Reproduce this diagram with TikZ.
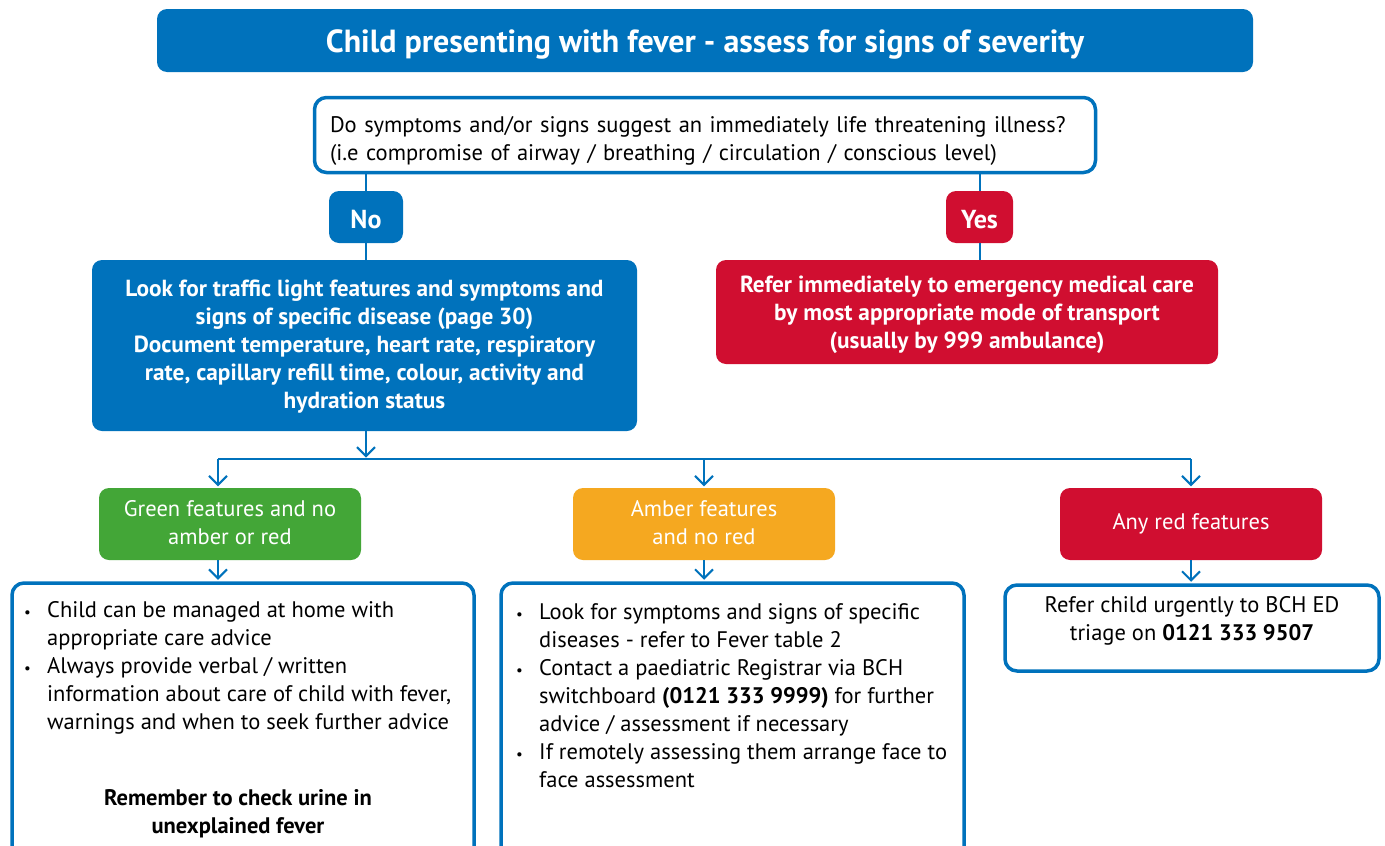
\documentclass[tikz,border=0pt]{standalone}
\usepackage{fontspec}
\setmainfont{PT Sans}
\usepackage{xcolor}
\usetikzlibrary{arrows.meta,positioning}

\definecolor{nhsblue}{RGB}{0,114,188}
\definecolor{alertred}{RGB}{208,14,48}
\definecolor{featgreen}{RGB}{67,166,55}
\definecolor{featamber}{RGB}{245,168,32}

\newcommand{\bodyfont}{\fontsize{22.5}{28}\selectfont}
\newcommand{\boldfont}{\bfseries\fontsize{23.3}{28}\selectfont}
\newcommand{\dotitem}{{\fontsize{15}{15}\selectfont\textbullet}}

\tikzset{
    filled/.style={rounded corners=10pt, inner sep=0pt, text=white, align=center},
    outlined/.style={draw=nhsblue, line width=3.5pt, rounded corners=12pt, fill=white, inner sep=0pt},
    link/.style={draw=nhsblue, line width=2pt},
    pointer/.style={link, shorten >=1.5pt, -{Straight Barb[length=9pt,width=18pt]}},
}

\begin{document}
\begin{tikzpicture}[x=1pt,y=-1pt]
    \clip (0,0) rectangle (1385,846);
    \fill[white] (0,0) rectangle (1385,846);

    % Title and question
    \node[filled, fill=nhsblue, minimum width=1096pt, minimum height=63pt,
          text height=23pt, text depth=0pt,
          font=\bfseries\fontsize{32}{34}\selectfont] (title) at (705,40.5)
          {Child presenting with fever - assess for signs of severity};
    \node[outlined, minimum width=781pt, minimum height=75pt, text width=750pt,
          text height=20pt, text depth=25pt,
          align=left, font=\bodyfont] (question) at (705,135)
          {Do symptoms and/or signs suggest an immediately life threatening illness?\\
           (i.e compromise of airway / breathing / circulation / conscious level)};

    % No / Yes
    \node[filled, fill=nhsblue, minimum width=74pt, minimum height=52pt,
          text height=22pt, text depth=0pt,
          font=\bfseries\fontsize{26}{28}\selectfont] (no) at (366,217) {No};
    \node[filled, fill=alertred, minimum width=67pt, minimum height=52pt,
          text height=22pt, text depth=0pt,
          font=\bfseries\fontsize{26}{28}\selectfont] (yes) at (979.5,217) {Yes};

    \node[filled, fill=nhsblue, minimum width=545pt, minimum height=171pt,
          text height=125pt, text depth=0pt,
          font=\boldfont] (assess) at (364.5,345.5)
          {Look for traffic light features and symptoms and\\
           signs of specific disease (page 30)\\
           Document temperature, heart rate, respiratory\\
           rate, capillary refill time, colour, activity and\\
           hydration status};
    \node[filled, fill=alertred, minimum width=502pt, minimum height=104pt,
          text height=72pt, text depth=0pt,
          font=\boldfont] (refer) at (967,312)
          {Refer immediately to emergency medical care\\
           by most appropriate mode of transport\\
           (usually by 999 ambulance)};

    \draw[link] (question.south -| no) -- (no.north);
    \draw[link] (no.south) -- (assess.north -| no);
    \draw[link] (question.south -| yes) -- (yes.north);
    \draw[link] (yes.south) -- (refer.north -| yes);

    % Traffic light split
    \coordinate (split) at (366,459);
    \coordinate (busL) at (218,459);
    \coordinate (busR) at (1191,459);
    \draw[pointer] (assess.south -| split) -- (split);
    \draw[link] (busL) -- (busR);

    \node[filled, fill=featgreen, minimum width=262pt, minimum height=72pt,
          text height=41pt, text depth=0pt,
          font=\bodyfont] (green) at (230,524) {Green features and no\\amber or red};
    \node[filled, fill=featamber, minimum width=262pt, minimum height=72pt,
          text height=41pt, text depth=0pt,
          font=\bodyfont] (amber) at (704,524) {Amber features\\and no red};
    \node[filled, fill=alertred, minimum width=262pt, minimum height=72pt,
          text height=20pt, text depth=9pt,
          font=\bodyfont] (red) at (1191,524) {Any red features};

    \draw[pointer] (busL) -- (busL |- green.north);
    \draw[pointer] (busL -| amber) -- (amber.north);
    \draw[pointer] (busR) -- (red.north);

    % Actions
    \node[outlined, minimum width=462pt, minimum height=280pt] (home) at (243,723) {};
    \node[outlined, minimum width=463pt, minimum height=280pt] (advice) at (732.5,723) {};
    \node[outlined, minimum width=374pt, minimum height=86pt, align=center,
          text height=25pt, text depth=0pt,
          font=\bodyfont] (urgent) at (1192,628)
          {Refer child urgently to BCH ED\\triage on \textbf{0121 333 9507}};

    \draw[pointer] (busL |- green.south) -- (busL |- home.north);
    \draw[pointer] (amber.south) -- (amber.south |- advice.north);
    \draw[pointer] (red.south) -- (red.south |- urgent.north);

    \node[anchor=base west, inner sep=0pt, font=\bodyfont] (hometext) at (24,617.5)
        {\begin{tabular}[t]{@{}p{23pt}@{}l@{}}
         \dotitem & Child can be managed at home with\\
                  & appropriate care advice\\
         \dotitem & Always provide verbal / written\\
                  & information about care of child with fever,\\
                  & warnings and when to seek further advice
         \end{tabular}};
    \node[anchor=base, inner sep=0pt, align=center, font=\bfseries\bodyfont] (urine) at (238,833)
        {Remember to check urine in\\unexplained fever};

    \node[anchor=base west, inner sep=0pt, font=\bodyfont] (advicetext) at (516,619)
        {\begin{tabular}[t]{@{}p{23pt}@{}l@{}}
         \dotitem & Look for symptoms and signs of specific\\
                  & diseases - refer to Fever table 2\\
         \dotitem & Contact a paediatric Registrar via BCH\\
                  & switchboard \textbf{(0121 333 9999)} for further\\
                  & advice / assessment if necessary\\
         \dotitem & If remotely assessing them arrange face to\\
                  & face assessment
         \end{tabular}};
\end{tikzpicture}
\end{document}
